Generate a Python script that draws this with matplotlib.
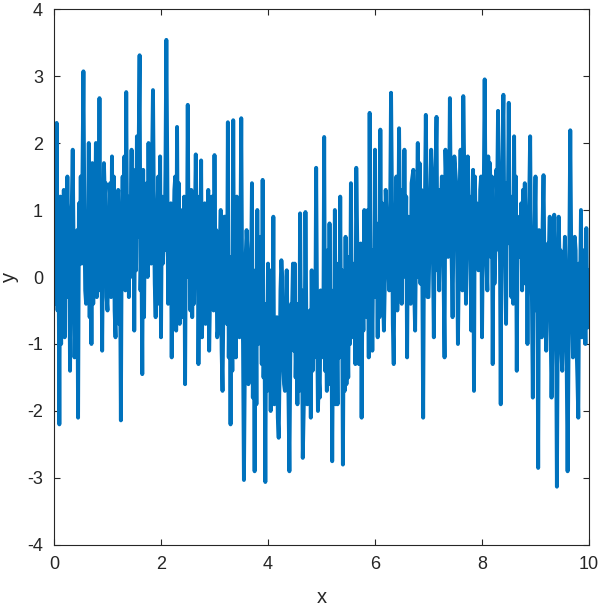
import numpy as np
import matplotlib
matplotlib.use("Agg")
import matplotlib.pyplot as plt

# noisy signal, values
x_start, x_stop = 0.0, 10.0

# samples at the start of each 0.05 step (the tall spikes)
y_main = [
    0.7, 2.3, -2.2, 1.0, -0.9, 1.5, -1.4, 1.9, -0.6, -2.1,
    1.5, 3.07, -0.4, 2.0, -1.0, 0.9, -0.3, 2.67, -1.1, 1.2,
    -0.5, 1.4, 0.2, -0.9, 1.3, -2.14, 0.6, 2.76, -0.3, 1.9,
    -0.8, 2.1, 3.31, -1.45, 1.2, 0.0, 1.6, 2.79, -0.6, 1.5,
    -0.9, 0.5, 3.54, 0.3, -1.2, 1.3, 2.24, -0.7, 0.9, -1.6,
    2.57, -0.5, 1.0, 1.83, -1.3, 1.74, -0.4, 0.8, -1.1, 1.2,
    1.82, -0.9, 0.4, -1.7, 0.9, 2.31, -2.2, 2.34, -1.2, 0.5,
    2.37, -3.03, 0.7, -1.5, 1.4, -2.9, 1.0, -0.9, 1.45, -3.06,
    0.2, -2.0, 0.9, -1.2, -2.4, 0.25, -1.6, 0.1, -2.9, -0.5,
    0.2, -1.9, 0.95, -2.7, 0.97, -1.3, -2.1, -0.4, 1.63, -1.5,
    -0.9, 2.09, -1.7, 0.8, -2.75, 1.0, -1.9, 1.2, -2.8, 0.6,
    -1.5, 1.4, -0.8, 1.63, -1.3, -2.1, 1.0, -0.6, 2.45, -1.1,
    1.9, -0.9, 2.2, -0.3, 1.3, 0.1, 2.75, -1.3, 1.5, 2.22,
    -0.4, 1.9, -1.2, 0.7, 1.5, -0.8, 2.0, -0.1, -2.1, 2.42,
    -0.3, 1.9, -0.9, 2.39, -0.2, 1.5, -1.2, 0.9, 2.67, -0.6,
    1.6, -1.0, 1.9, 2.7, -0.4, 1.2, -0.8, -1.7, 1.1, 0.2,
    -0.9, 2.95, -0.2, 1.7, -1.3, 0.4, 2.48, -1.9, 2.72, -0.7,
    2.6, -0.3, 2.1, -1.4, 0.6, -0.2, 1.4, -1.0, 2.1, -1.8,
    1.5, -2.85, 0.3, 1.52, -1.1, 0.4, -1.8, 0.93, -3.13, 0.2,
    -1.4, 0.6, -2.9, 2.19, -1.2, 0.4, -2.1, 1.0, -0.2, 0.73,
    -0.75,
]

# second sample inside each step
y_mid = [
    0.3, -0.5, 1.2, 0.1, 0.6, -0.2, 0.9, 0.4, -0.8, 1.1,
    0.2, 1.0, 0.8, -0.6, 1.7, 0.3, 1.2, -0.2, 0.6, 1.4,
    0.9, -0.3, 1.5, 0.5, -0.7, 0.8, 1.8, 0.4, 1.1, 0.0,
    1.3, 0.6, -0.2, 1.6, 0.9, 2.0, 0.2, 1.1, 0.7, -0.4,
    1.2, 0.4, 1.7, -0.3, 0.8, 1.5, 0.1, 1.0, -0.6, 0.9,
    0.3, 1.3, -0.4, 0.7, 0.2, -0.9, 1.1, 0.5, -0.3, 0.8,
    0.0, -0.8, 1.0, -0.4, 0.6, -1.2, 0.3, -0.5, 1.2, -0.9,
    -0.2, -1.3, 0.4, -0.7, -1.8, 0.1, -1.0, 0.6, -1.5, -0.4,
    -1.1, -0.3, -1.9, -0.6, -1.4, 0.0, -1.7, -0.8, -1.2, 0.2,
    -1.5, -0.4, -1.1, -2.0, -0.7, -1.6, 0.1, -1.2, -0.5, -1.8,
    -0.3, -1.4, 0.4, -1.1, -0.6, -1.9, 0.2, -1.0, -0.4, -1.6,
    0.3, -0.9, -0.2, 0.6, -1.1, 0.1, -0.5, 1.0, -0.7, 0.4,
    -0.3, 0.8, 0.1, -0.8, 0.9, -0.2, 1.2, 0.4, -0.5, 0.7,
    1.1, 0.2, 0.9, -0.4, 1.6, 0.5, 0.0, 1.3, 0.6, 1.0,
    0.4, 1.5, 0.8, 0.1, 1.3, 0.6, 1.9, 0.3, 1.1, 0.7,
    1.4, 0.2, 0.9, 1.7, 0.5, 1.2, 0.0, 1.5, 0.8, 1.3,
    0.6, 1.1, 1.8, 0.3, 1.0, 1.6, 0.4, 1.2, 0.7, 1.4,
    0.5, 1.2, -0.2, 0.9, 0.3, 1.3, -0.1, 0.8, 0.2, 0.6,
    -0.5, 0.7, -0.9, 0.2, -0.3, 0.9, -1.0, 0.1, -0.6, 0.4,
    -0.8, -0.1, -1.2, 0.5, -0.6, -1.0, 0.2, -0.9, 0.0, -0.4,
]

# third sample inside each step
y_late = [
    -0.4, 0.8, -1.0, 1.3, -0.3, 0.5, 1.1, -1.2, 0.7, 0.2,
    1.6, -0.2, 0.4, 1.3, -0.4, 2.0, 0.1, 0.9, 1.7, -0.3,
    0.6, 1.8, -0.5, 1.0, 0.3, 1.5, -0.2, 1.2, 0.8, 1.6,
    0.1, 1.9, 0.5, -0.6, 1.4, 0.3, 1.7, -0.1, 1.0, 1.8,
    0.2, 1.6, -0.4, 1.1, 0.5, -0.8, 1.4, 0.3, 1.2, 0.0,
    1.0, -0.6, 0.8, 1.2, -0.2, 0.4, -0.7, 1.3, 0.1, -0.5,
    0.7, 0.3, -1.1, 0.9, -0.7, 0.2, -1.4, 0.8, -0.2, 0.4,
    -1.0, 0.3, -1.6, 0.0, -0.5, -1.9, 0.2, -1.3, -0.6, -1.7,
    0.1, -1.5, -0.7, -2.1, -0.2, -1.3, -0.9, -1.8, -0.4, -1.1,
    -0.8, -1.7, -0.2, -1.3, -1.9, -0.5, -1.4, -0.9, -2.0, -0.2,
    -1.2, -0.5, -1.6, -0.2, -1.4, -0.8, -1.2, 0.1, -1.7, -0.7,
    -1.0, 0.2, -1.3, -0.4, 0.5, -0.8, 0.7, -1.2, 0.3, -0.1,
    0.6, -0.6, 1.1, -0.1, 0.3, 1.0, -0.7, 0.8, 0.2, 1.3,
    0.0, 1.2, 0.4, 1.4, -0.2, 0.9, 1.7, 0.2, 1.1, -0.3,
    1.2, 0.3, 1.6, 0.5, 1.0, -0.1, 1.4, 0.9, 0.2, 1.8,
    0.6, 1.3, -0.2, 1.1, 1.8, 0.4, 1.6, 0.7, 0.1, 1.5,
    1.3, 0.2, 0.9, 1.5, -0.1, 1.2, 0.8, 1.9, 0.2, 1.0,
    1.0, -0.4, 1.5, 0.4, 1.1, 0.0, 0.9, 1.2, -0.3, 0.7,
    0.3, -0.7, 0.8, -0.2, 0.5, -0.8, 0.4, -0.4, 0.9, -1.1,
    0.1, -1.3, 0.3, -0.4, 0.6, -1.5, -0.2, 0.4, -1.0, 0.1,
]

x_ticks = [0, 2, 4, 6, 8, 10]
y_ticks = [-4, -3, -2, -1, 0, 1, 2, 3, 4]

# put the three sets in x order
y_vals = []
for a, b, c in zip(y_main, y_mid, y_late):
    y_vals += [a, b, c]
y_vals.append(y_main[-1])
x_vals = np.linspace(x_start, x_stop, len(y_vals))

plt.rcParams['font.family'] = ['Liberation Sans', 'DejaVu Sans']
plt.rcParams['axes.unicode_minus'] = False

fig = plt.figure(figsize=(6.02, 6.06), dpi=100)
ax = fig.add_axes([0.0897, 0.1007, 0.8887, 0.8844])

ax.plot(x_vals, y_vals, color='#0072BD', linewidth=2.8)

ax.set_xlim(0, 10)
ax.set_ylim(-4, 4)
ax.set_xticks(x_ticks)
ax.set_yticks(y_ticks)
ax.tick_params(direction='in', top=True, right=True, length=4,
               width=0.8, colors='#262626', labelsize=13, pad=8)
for s in ax.spines.values():
    s.set_color('#262626')
    s.set_linewidth(0.8)

ax.set_xlabel("x", fontsize=14.5, color='#262626', labelpad=11)
ax.set_ylabel("y", fontsize=14.5, color='#262626', labelpad=6)

fig.savefig("out.png", dpi=100)
